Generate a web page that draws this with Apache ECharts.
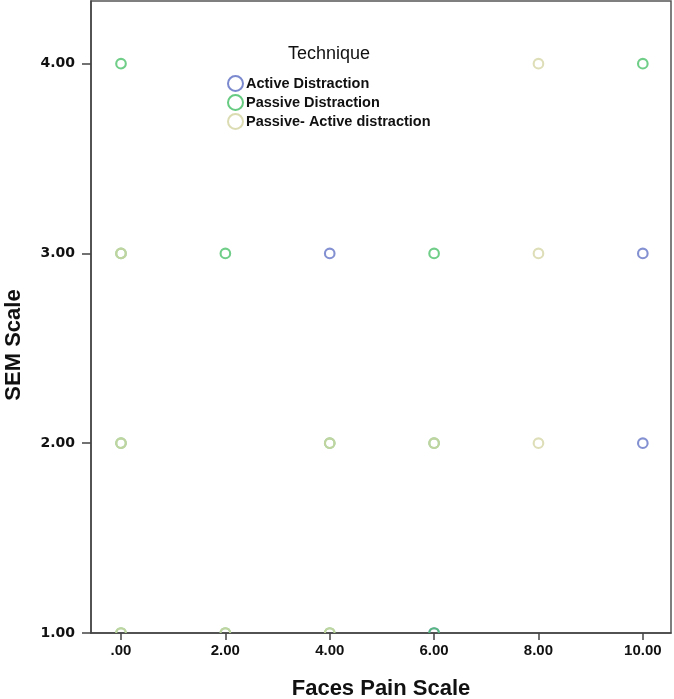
<!DOCTYPE html>
<html>
<head>
<meta charset="utf-8">
<script src="https://cdn.jsdelivr.net/npm/echarts@6/dist/echarts.min.js"></script>
<style>
  html, body { margin: 0; padding: 0; background: #fff; }
  #chart { width: 674px; height: 699px; }
</style>
</head>
<body>
<div id="chart"></div>
<script>
// ---- data ----
const seriesNames = ['Active Distraction', 'Passive Distraction', 'Passive- Active distraction'];
const activeX  = [4, 10, 10, 6];
const activeY  = [3, 3, 2, 1];
const passiveX = [0, 10, 0, 2, 6, 0, 4, 6, 0, 2, 4, 6];
const passiveY = [4, 4, 3, 3, 3, 2, 2, 2, 1, 1, 1, 1];
const mixedX   = [8, 0, 8, 0, 4, 6, 8, 0, 2, 4];
const mixedY   = [4, 3, 3, 2, 2, 2, 2, 1, 1, 1];
const xTicks = [0, 2, 4, 6, 8, 10];
const yTicks = [1, 2, 3, 4];
const xLabels = ['.00', '2.00', '4.00', '6.00', '8.00', '10.00'];
const yLabels = ['1.00', '2.00', '3.00', '4.00'];

const colors = ['#6474c6', '#4cc26c', '#d6d6a6'];
const FONT = 'Liberation Sans, Arial, sans-serif';

function pairs(xs, ys) { return xs.map((x, i) => [x, ys[i]]); }
const seriesData = [pairs(activeX, activeY), pairs(passiveX, passiveY), pairs(mixedX, mixedY)];

const chart = echarts.init(document.getElementById('chart'), null, { renderer: 'canvas' });
chart.setOption({
  animation: false,
  backgroundColor: '#fff',
  title: {
    text: 'Technique',
    left: 288, top: 45, padding: 0,
    textStyle: { fontFamily: FONT, fontSize: 18, fontWeight: 'normal', color: '#111' }
  },
  legend: {
    orient: 'vertical',
    left: 227, top: 75, padding: 0,
    itemWidth: 15, itemHeight: 15, itemGap: 2,
    icon: 'circle',
    data: seriesNames.map((n, i) => ({
      name: n,
      itemStyle: { color: 'rgba(255,255,255,0)', borderColor: colors[i], borderWidth: 2, opacity: 0.85 }
    })),
    textStyle: { fontFamily: FONT, fontSize: 14.5, fontWeight: 'bold', color: '#111', padding: [0, 0, 0, -2] }
  },
  grid: {
    left: 91, right: 3, top: 1, bottom: 66,
    outerBoundsMode: 'none', containLabel: false,
    show: true, borderColor: '#555', borderWidth: 1.5, backgroundColor: '#fff'
  },
  xAxis: {
    type: 'value', min: -0.575, max: 10.54,
    splitLine: { show: false },
    axisLine: { show: true, onZero: false, lineStyle: { color: '#444', width: 1.5 } },
    axisTick: { show: true, length: 7, customValues: xTicks, lineStyle: { color: '#444', width: 1.5 } },
    axisLabel: {
      customValues: xTicks, margin: 10,
      formatter: v => xLabels[xTicks.indexOf(Math.round(v))],
      fontFamily: FONT, fontSize: 15, fontWeight: 'bold', color: '#111'
    },
    name: 'Faces Pain Scale', nameLocation: 'middle', nameGap: 45,
    nameTextStyle: { fontFamily: FONT, fontSize: 22, fontWeight: 'bold', color: '#111' }
  },
  yAxis: {
    type: 'value', min: 1, max: 4.33,
    splitLine: { show: false },
    axisLine: { show: true, onZero: false, lineStyle: { color: '#444', width: 1.5 } },
    axisTick: { show: true, length: 9, customValues: yTicks, lineStyle: { color: '#444', width: 1.5 } },
    axisLabel: {
      customValues: yTicks, margin: 16,
      formatter: v => yLabels[yTicks.indexOf(Math.round(v))],
      fontFamily: 'DejaVu Sans, Verdana, sans-serif', fontSize: 14, fontWeight: 'bold', color: '#111'
    },
    name: 'SEM Scale', nameLocation: 'middle', nameGap: 66,
    nameTextStyle: { fontFamily: FONT, fontSize: 22, fontWeight: 'bold', color: '#111', padding: [0, 56, 0, 0] }
  },
  series: seriesNames.map((n, i) => ({
    name: n,
    type: 'custom',
    clip: true,
    data: seriesData[i],
    encode: { x: 0, y: 1 },
    itemStyle: { color: colors[i] },
    renderItem: (params, api) => {
      const p = api.coord([api.value(0), api.value(1)]);
      return {
        type: 'circle',
        shape: { cx: p[0], cy: p[1], r: 4.8 },
        style: { fill: 'none', stroke: colors[i], lineWidth: 2.1, opacity: 0.8 }
      };
    }
  }))
});
</script>
</body>
</html>
